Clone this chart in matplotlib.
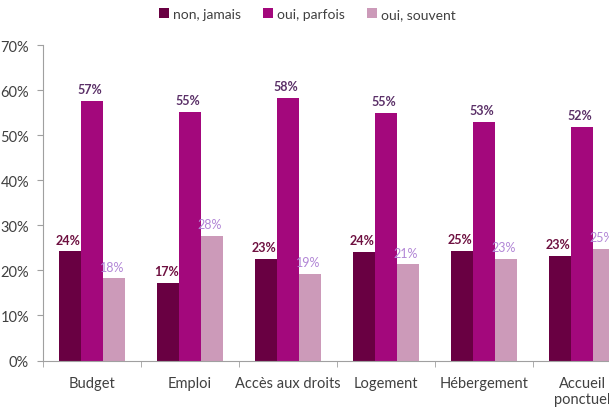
import numpy as np
import matplotlib
matplotlib.use('Agg')
import matplotlib.pyplot as plt
from matplotlib.ticker import FixedLocator

plt.rcParams['font.family'] = ['Lato', 'DejaVu Sans']

categories = ['Budget', 'Emploi', 'Accès aux droits', 'Logement', 'Hébergement', 'Accueil\nponctuel']
series_names = ['non, jamais', 'oui, parfois', 'oui, souvent']
non_jamais = [24.2, 17.3, 22.6, 24.0, 24.4, 23.2]
oui_parfois = [57.5, 55.1, 58.2, 54.9, 52.9, 51.9]
oui_souvent = [18.2, 27.6, 19.3, 21.3, 22.6, 24.7]
labels_non = [24, 17, 23, 24, 25, 23]
labels_parfois = [57, 55, 58, 55, 53, 52]
labels_souvent = [18, 28, 19, 21, 23, 25]

bar_colors = ['#690042', '#A3087C', '#CC9AB9']
text_colors = ['#6E1040', '#5B3068', '#B286D6']

fig = plt.figure(figsize=(6.09, 4.10), dpi=100)
# axes deliberately runs past the right edge, like the cropped original
ax = fig.add_axes([43 / 609, 48.5 / 410, 588 / 609, 315.5 / 410])

x = np.arange(len(categories))
w = 0.222
all_vals = [non_jamais, oui_parfois, oui_souvent]
all_labels = [labels_non, labels_parfois, labels_souvent]
for i, (vals, labs) in enumerate(zip(all_vals, all_labels)):
    pos = x + (i - 1) * w
    ax.bar(pos, vals, width=w, color=bar_colors[i], label=series_names[i])
    for p, v, l in zip(pos, vals, labs):
        ax.text(p - 0.02, v + 1.3, f'{l}%', ha='center', va='bottom', fontsize=9,
                fontweight='bold' if i < 2 else 'normal', color=text_colors[i])

ax.set_xlim(-0.5, len(categories) - 0.5)
ax.set_ylim(0, 70)
ax.set_yticks(np.arange(0, 71, 10))
ax.set_yticklabels([f'{v}%' for v in range(0, 71, 10)], fontsize=10.5, color='#404040')
ax.set_xticks(x)
ax.set_xticklabels(categories, fontsize=10.5, color='#404040')
ax.tick_params(axis='x', which='major', length=0, pad=11)
ax.xaxis.set_minor_locator(FixedLocator(np.arange(-0.5, len(categories), 1)))
ax.tick_params(axis='x', which='minor', length=4, color='#A0A0A0')
ax.tick_params(axis='y', length=4, color='#A0A0A0', pad=6)

for s in ['top', 'right']:
    ax.spines[s].set_visible(False)
for s in ['left', 'bottom']:
    ax.spines[s].set_color('#A0A0A0')

fig.legend(loc='upper center', bbox_to_anchor=(0.505, 1.008), ncol=3, frameon=False,
           fontsize=10, handlelength=0.7, handleheight=0.7, handletextpad=0.3,
           columnspacing=1.6, labelcolor='#404040')

fig.savefig('out.png', dpi=100)
